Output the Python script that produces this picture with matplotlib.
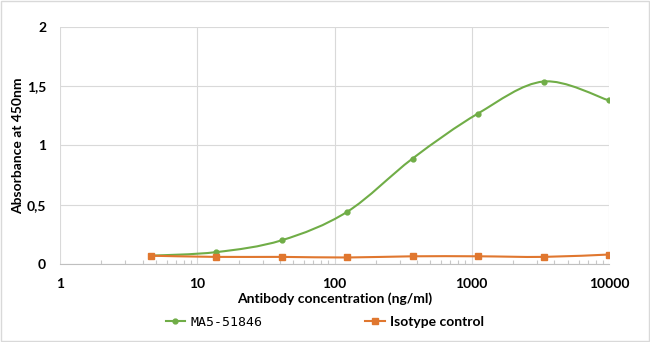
import numpy as np
import matplotlib.pyplot as plt
from matplotlib.path import Path
from matplotlib.patches import PathPatch, Rectangle
from matplotlib.ticker import FixedLocator, LogLocator, NullFormatter

# ----------data----------
conc = [4.57, 13.7, 41.2, 123.5, 370.4, 1111, 3333, 10000]
ma5 = [0.07, 0.10, 0.20, 0.44, 0.89, 1.27, 1.54, 1.38]
isotype = [0.07, 0.06, 0.06, 0.055, 0.065, 0.065, 0.06, 0.08]
x_ticks = [1, 10, 100, 1000, 10000]
y_ticks = [0, 0.5, 1, 1.5, 2]
y_tick_labels = ["0", "0,5", "1", "1,5", "2"]

GREEN = "#70AD47"
ORANGE = "#E0772F"
plt.rcParams['font.family'] = ['Lato', 'DejaVu Sans']


def smooth_path(xs, ys):
    """Excel-like smoothed line as a bezier path (log x space)"""
    lx = np.log10(xs)
    y = np.array(ys, dtype=float)
    n = len(lx)
    verts = [(xs[0], y[0])]
    codes = [Path.MOVETO]
    for i in range(n - 1):
        p0 = max(i - 1, 0)
        p3 = min(i + 2, n - 1)
        c1x = lx[i] + (lx[i + 1] - lx[p0]) / 6
        c1y = y[i] + (y[i + 1] - y[p0]) / 6
        c2x = lx[i + 1] - (lx[p3] - lx[i]) / 6
        c2y = y[i + 1] - (y[p3] - y[i]) / 6
        verts += [(10 ** c1x, c1y), (10 ** c2x, c2y), (xs[i + 1], y[i + 1])]
        codes += [Path.CURVE4] * 3
    return Path(verts, codes)


fig = plt.figure(figsize=(6.5, 3.42), dpi=100)
ax = fig.add_axes([60 / 650, 1 - 264 / 342, 549 / 650, 237 / 342])
ax.set_xscale('log')
ax.set_xlim(1, 10000)
ax.set_ylim(0, 2)

for series, color in [(ma5, GREEN), (isotype, ORANGE)]:
    ax.add_patch(PathPatch(smooth_path(conc, series), facecolor='none',
                           edgecolor=color, lw=1.5, zorder=3))

ax.plot(conc, ma5, ls='none', marker='o', ms=3.5, color=GREEN, zorder=4)
ax.plot(conc, isotype, ls='none', marker='s', ms=5, color=ORANGE, zorder=4)

# legend proxies
ax.plot([], [], color=GREEN, lw=1.5, marker='o', ms=3.5, label="MA5-51846")
ax.plot([], [], color=ORANGE, lw=1.5, marker='s', ms=5, label="Isotype control")

# ----------axes styling----------
ax.xaxis.set_major_locator(FixedLocator(x_ticks))
ax.set_xticklabels([str(t) for t in x_ticks])
ax.xaxis.set_minor_locator(LogLocator(base=10, subs=np.arange(2, 10)))
ax.xaxis.set_minor_formatter(NullFormatter())
ax.set_yticks(y_ticks)
ax.set_yticklabels(y_tick_labels)
ax.grid(True, which='major', color='#D9D9D9', lw=0.8)
ax.set_axisbelow(True)
for side in ['top', 'right', 'left']:
    ax.spines[side].set_visible(False)
ax.spines['bottom'].set_color('#BFBFBF')
ax.tick_params(axis='both', which='major', length=0, labelsize=10, pad=10)
ax.tick_params(axis='x', which='minor', direction='in', length=3,
               color='#C8C8C8', width=0.8)
for lbl in ax.get_xticklabels() + ax.get_yticklabels():
    lbl.set_fontweight('bold')

ax.set_xlabel("Antibody concentration (ng/ml)", fontsize=10, fontweight='bold',
              labelpad=2)
ax.set_ylabel("Absorbance at 450nm", fontsize=10, fontweight='bold')
ax.yaxis.set_label_coords(-0.066, 0.5)

leg = fig.legend(loc='center', bbox_to_anchor=(0.5, 1 - 322 / 342), ncol=2,
                 frameon=False, fontsize=10, handlelength=1.4, columnspacing=7.4,
                 handletextpad=0.4)
texts = leg.get_texts()
texts[0].set_family('DejaVu Sans Mono')
texts[0].set_fontsize(9.5)
texts[1].set_fontweight('bold')

fig.patches.append(Rectangle((0.002, 0.003), 0.996, 0.994, transform=fig.transFigure,
                             fill=False, edgecolor='#D9D9D9', lw=1))

fig.savefig("out.png", dpi=100)
